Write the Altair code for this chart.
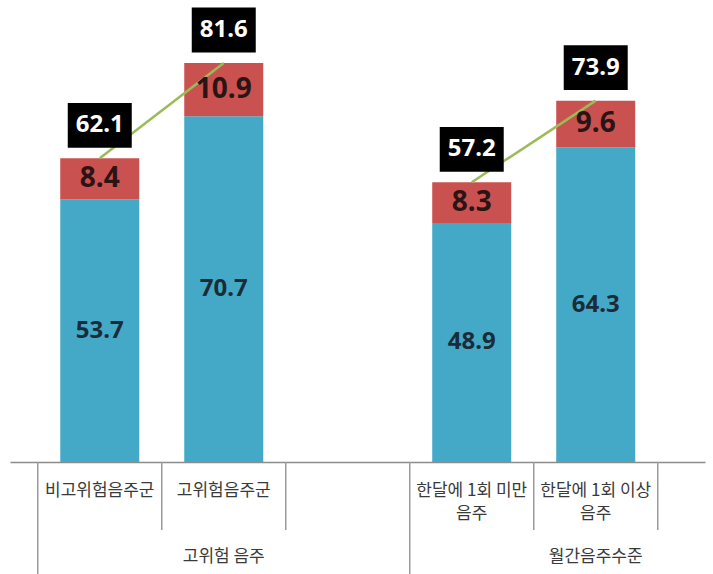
import altair as alt
import pandas as pd

# ---- data ----
bar_labels = ["비고위험음주군", "고위험음주군", "한달에 1회 미만\n음주", "한달에 1회 이상\n음주"]
bar_slots = [0, 1, 3, 4]
bar_groups = ["고위험 음주", "고위험 음주", "월간음주수준", "월간음주수준"]
blue_vals = [53.7, 70.7, 48.9, 64.3]
red_vals = [8.4, 10.9, 8.3, 9.6]
total_vals = [62.1, 81.6, 57.2, 73.9]

group_names = ["고위험 음주", "월간음주수준"]
group_first_slot = [0, 3]
slots_per_group = 3

# ---- tables ----
bars = pd.DataFrame({
    "idx": bar_slots, "label": bar_labels, "grp": bar_groups,
    "blue": blue_vals, "red": red_vals, "total": total_vals,
})
bars["blue_txt"] = bars["blue"].map(lambda v: f"{v:.1f}")
bars["red_txt"] = bars["red"].map(lambda v: f"{v:.1f}")
bars["total_txt"] = bars["total"].map(lambda v: f"{v:.1f}")
bars["blue_mid"] = bars["blue"] / 2
bars["red_mid"] = bars["blue"] + bars["red"] / 2

cat_df = bars[["idx", "label"]]
grp_df = pd.DataFrame({
    "idx": [f + (slots_per_group - 1) / 2 for f in group_first_slot],
    "label": group_names,
})
tall_sep = pd.DataFrame({"idx": [f - 0.5 for f in group_first_slot]})
short_sep = pd.DataFrame({"idx": [f + k - 0.5 for f in group_first_slot for k in range(1, slots_per_group)]})

# ---- encodings ----
X_DOMAIN = [-0.6836, 4.841]
def xenc():
    return alt.X("idx:Q",
                 scale=alt.Scale(domain=X_DOMAIN, nice=False, zero=False),
                 axis=alt.Axis(labels=False, ticks=False, grid=False, title=None,
                               domainColor="#8c8c8c", domainWidth=1.5))

Y_SCALE = alt.Scale(domain=[0, 94.48], nice=False, zero=True)
BLUE = "#43a9c7"
RED = "#c9514f"
NUMFONT = "Noto Sans"
KRFONT = "Noto Sans CJK KR"

base = alt.Chart(bars)

blue_bar = base.mark_bar(color=BLUE, size=79).encode(
    x=xenc(), y=alt.Y("blue:Q", scale=Y_SCALE, axis=None))
red_bar = base.mark_bar(color=RED, size=79).encode(
    x=xenc(), y=alt.Y("total:Q", scale=Y_SCALE, axis=None), y2="blue:Q")
line = base.mark_line(color="#9bbb59", strokeWidth=2.5).encode(
    x=xenc(), y=alt.Y("total:Q", scale=Y_SCALE, axis=None), detail="grp:N")
blue_txt = base.mark_text(font=NUMFONT, fontSize=24, fontWeight="bold", color="#1b2b38",
                          baseline="middle").encode(
    x=xenc(), y=alt.Y("blue_mid:Q", scale=Y_SCALE, axis=None), text="blue_txt:N")
red_txt = base.mark_text(font=NUMFONT, fontSize=28, fontWeight="bold", color="#2a1414",
                         baseline="middle").encode(
    x=xenc(), y=alt.Y("red_mid:Q", scale=Y_SCALE, axis=None), text="red_txt:N")
box = base.mark_point(shape="M-1,-0.7H1V0.7H-1Z", size=4096, filled=True, color="#000000",
                      opacity=1, strokeWidth=0, yOffset=-33).encode(
    x=xenc(), y=alt.Y("total:Q", scale=Y_SCALE, axis=None))
total_txt = base.mark_text(font=NUMFONT, fontSize=24, fontWeight="bold", color="#ffffff",
                           baseline="middle", yOffset=-33).encode(
    x=xenc(), y=alt.Y("total:Q", scale=Y_SCALE, axis=None), text="total_txt:N")

sep_tall = alt.Chart(tall_sep).mark_rule(color="#9a9a9a", strokeWidth=1.5).encode(
    x=xenc(), y=alt.value(462), y2=alt.value(574))
sep_short = alt.Chart(short_sep).mark_rule(color="#9a9a9a", strokeWidth=1.5).encode(
    x=xenc(), y=alt.value(462), y2=alt.value(530))
cat_txt = alt.Chart(cat_df).mark_text(font=KRFONT, fontSize=17, color="#3a3a3a",
                                      baseline="middle", lineBreak="\n", lineHeight=23).encode(
    x=xenc(), y=alt.value(491), text="label:N")
grp_txt = alt.Chart(grp_df).mark_text(font=KRFONT, fontSize=17, color="#3a3a3a",
                                      baseline="middle").encode(
    x=xenc(), y=alt.value(557), text="label:N")

chart = alt.layer(
    blue_bar, red_bar, line, blue_txt, red_txt, box, total_txt,
    sep_tall, sep_short, cat_txt, grp_txt,
).properties(
    width=695, height=462,
    autosize=alt.AutoSizeParams(type="none"),
    padding={"left": 10, "top": 0, "right": 8, "bottom": 112},
    background="#ffffff",
).configure_view(stroke=None)

chart.save("out.html", embed_options={"renderer": "svg", "actions": False})
